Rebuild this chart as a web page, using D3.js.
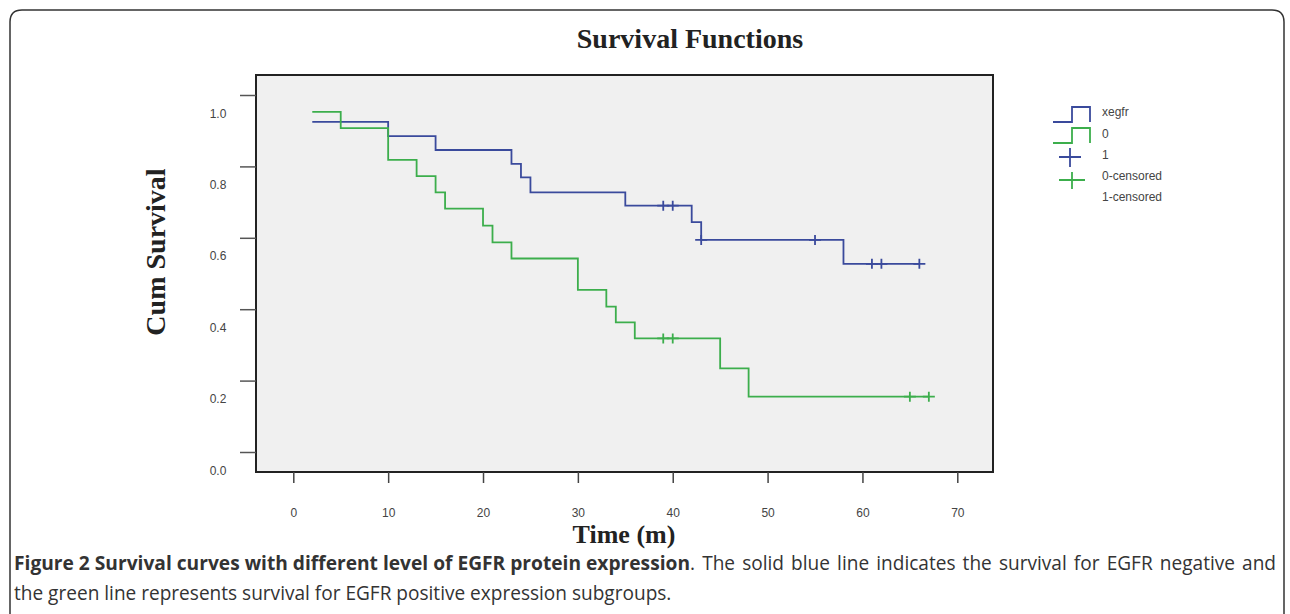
<!DOCTYPE html>
<html lang="en">
	<head>
		<meta charset="utf-8">
		<title>Survival Functions</title>
		<script src="https://d3js.org/d3.v7.min.js"></script>
		<style type="text/css">
			body { margin: 0; background: #fff; }
			svg { display: block; }
		</style>
	</head>
	<body>
		<script type="text/javascript">
			//Width and height
			var w = 1290;
			var h = 614;

			// data
			var xTicks = [0, 10, 20, 30, 40, 50, 60, 70];
			var yTicks = [0.0, 0.2, 0.4, 0.6, 0.8, 1.0];

			// xegfr = 0 (blue)
			var blueTimes = [2, 10, 15, 23, 24, 25, 35, 42, 43, 58];
			var blueSurv = [0.925, 0.885, 0.846, 0.807, 0.769, 0.727, 0.690, 0.644, 0.594, 0.527];
			var blueEnd = 66;
			var blueCensored = [39, 40, 43, 55, 61, 62, 66];

			// xegfr = 1 (green)
			var greenTimes = [2, 5, 10, 13, 15, 16, 20, 21, 23, 30, 33, 34, 36, 45, 48];
			var greenSurv = [0.953, 0.907, 0.818, 0.773, 0.727, 0.682, 0.634, 0.587, 0.542, 0.454, 0.407, 0.363, 0.318, 0.234, 0.155];
			var greenEnd = 67;
			var greenCensored = [39, 40, 65, 67];

			var legendLabels = ["xegfr", "0", "1", "0-censored", "1-censored"];

			var blue = "#3a4a9c";
			var green = "#3cae4c";

			var svg = d3.select('body').append('svg').attr('width', w).attr('height', h);

			// page frame (rounded, open at bottom)
			svg.append("path")
				.attr("d", "M10,614 V22 Q10,10 22,10 H1272 Q1284,10 1284,22 V614")
				.attr("fill", "none")
				.attr("stroke", "#333")
				.attr("stroke-width", 1.5);

			//Create scale functions
			var xScale = d3.scaleLinear().domain([0, 70]).range([293.3, 957.3]);
			var yScale = d3.scaleLinear().domain([0, 1]).range([452, 95]);

			// plot box
			svg.append("rect")
				.attr("x", 256).attr("y", 75)
				.attr("width", 737).attr("height", 397)
				.attr("fill", "#f0f0f0")
				.attr("stroke", "#222")
				.attr("stroke-width", 2);

			// title
			svg.append("text")
				.attr("x", 690).attr("y", 48)
				.attr("text-anchor", "middle")
				.style("font-family", "'Liberation Serif', 'Times New Roman', serif")
				.style("font-weight", "bold")
				.style("font-size", "28px")
				.attr("fill", "#222")
				.text("Survival Functions");

			// y axis
			var yAxis = d3.axisLeft(yScale).tickValues(yTicks).tickFormat(d3.format(".1f")).tickSize(16);
			var gy = svg.append("g").attr("transform", "translate(256,0)").call(yAxis);
			gy.select(".domain").remove();
			gy.selectAll(".tick line").attr("stroke", "#555").attr("stroke-width", 1.5);
			gy.selectAll(".tick text")
				.attr("x", -38).attr("dy", 18 + 4)
				.attr("text-anchor", "middle")
				.attr("fill", "#444")
				.style("font-family", "'Liberation Sans', Arial, sans-serif")
				.style("font-size", "12px");

			// x axis
			var xAxis = d3.axisBottom(xScale).tickValues(xTicks).tickSize(11);
			var gx = svg.append("g").attr("transform", "translate(0,472)").call(xAxis);
			gx.select(".domain").remove();
			gx.selectAll(".tick line").attr("stroke", "#444").attr("stroke-width", 1.5);
			gx.selectAll(".tick text")
				.attr("y", 40.7).attr("dy", "0.35em")
				.attr("fill", "#444")
				.style("font-family", "'Liberation Sans', Arial, sans-serif")
				.style("font-size", "12px");

			// axis titles
			svg.append("text")
				.attr("x", 624).attr("y", 543)
				.attr("text-anchor", "middle")
				.style("font-family", "'Liberation Serif', 'Times New Roman', serif")
				.style("font-weight", "bold")
				.style("font-size", "26px")
				.attr("fill", "#222")
				.text("Time (m)");

			svg.append("text")
				.attr("transform", "translate(165,252) rotate(-90)")
				.attr("text-anchor", "middle")
				.style("font-family", "'Liberation Serif', 'Times New Roman', serif")
				.style("font-weight", "bold")
				.style("font-size", "28px")
				.attr("fill", "#222")
				.text("Cum Survival");

			// survival steps
			var stepLine = d3.line()
				.x(d => xScale(d[0]))
				.y(d => yScale(d[1]))
				.curve(d3.curveStepAfter);

			function steps(times, surv, end) {
				var pts = times.map((t, i) => [t, surv[i]]);
				pts.push([end, surv[surv.length - 1]]);
				return pts;
			}

			// value of the curve at time t
			function survAt(times, surv, t) {
				var v = surv[0];
				times.forEach((tt, i) => { if (tt <= t) v = surv[i]; });
				return v;
			}

			var series = [
				{ times: blueTimes, surv: blueSurv, end: blueEnd, cens: blueCensored, color: blue },
				{ times: greenTimes, surv: greenSurv, end: greenEnd, cens: greenCensored, color: green }
			];

			series.forEach(function(s) {
				svg.append("path")
					.datum(steps(s.times, s.surv, s.end))
					.attr("d", stepLine)
					.attr("fill", "none")
					.attr("stroke", s.color)
					.attr("stroke-width", 1.8);

				svg.selectAll(null)
					.data(s.cens)
					.enter()
					.append("path")
						.attr("d", function(t) {
							var cx = xScale(t), cy = yScale(survAt(s.times, s.surv, t));
							return "M" + (cx - 6) + "," + cy + "H" + (cx + 6) + "M" + cx + "," + (cy - 5) + "V" + (cy + 5);
						})
						.attr("fill", "none")
						.attr("stroke", s.color)
						.attr("stroke-width", 1.8);
			});

			// legend (symbols sit one row above their labels, as in the figure)
			var lg = svg.append("g");
			lg.append("path")
				.attr("d", "M1053,122 H1072 V107 H1090 V122")
				.attr("fill", "none").attr("stroke", blue).attr("stroke-width", 1.8);
			lg.append("path")
				.attr("d", "M1053,143 H1072 V128 H1090 V143")
				.attr("fill", "none").attr("stroke", green).attr("stroke-width", 1.8);
			lg.append("path")
				.attr("d", "M1059,157 H1081 M1070,148 V167")
				.attr("fill", "none").attr("stroke", blue).attr("stroke-width", 1.8);
			lg.append("path")
				.attr("d", "M1059,180 H1085 M1072,172 V189")
				.attr("fill", "none").attr("stroke", green).attr("stroke-width", 1.8);

			lg.selectAll("text")
				.data(legendLabels)
				.enter()
				.append("text")
					.attr("x", 1102)
					.attr("y", (d, i) => 112 + i * 21.3)
					.attr("dy", "0.35em")
					.attr("fill", "#444")
					.style("font-family", "'Liberation Sans', Arial, sans-serif")
					.style("font-size", "12px")
					.text(d => d);

			// caption
			var capFont = "'Open Sans', sans-serif";

			// second line sets the size of the regular caption text
			var cap2 = svg.append("text")
				.attr("x", 14).attr("y", 600)
				.style("font-family", capFont)
				.style("font-size", "16px")
				.attr("fill", "#333")
				.text("the green line represents survival for EGFR positive expression subgroups.");
			var capSize = 16 * 658 / cap2.node().getComputedTextLength();
			cap2.style("font-size", capSize + "px");

			var cap1a = svg.append("text")
				.attr("x", 14).attr("y", 570)
				.style("font-family", capFont)
				.style("font-size", capSize + "px")
				.style("font-weight", "bold")
				.attr("fill", "#333")
				.text("Figure 2 Survival curves with different level of EGFR protein expression");
			cap1a.attr("textLength", 676).attr("lengthAdjust", "spacingAndGlyphs");

			// rest of line one is justified to the right edge with word spacing
			var capRest = ". The solid blue line indicates the survival for EGFR negative and";
			var cap1b = svg.append("text")
				.attr("x", 690).attr("y", 570)
				.style("font-family", capFont)
				.style("font-size", capSize + "px")
				.attr("fill", "#333")
				.text(capRest);
			var spaces = capRest.split(" ").length - 1;
			var extra = (1276 - 690 - cap1b.node().getComputedTextLength()) / spaces;
			cap1b.style("word-spacing", extra + "px");
		</script>
	</body>
</html>
